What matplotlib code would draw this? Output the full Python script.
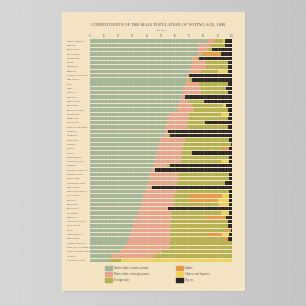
import numpy as np
import matplotlib
matplotlib.use("Agg")
import matplotlib.pyplot as plt
from matplotlib.patches import Rectangle

# rows, top to bottom (per cent of males of voting age)
states = ["WEST VIRGINIA", "INDIANA", "KENTUCKY", "OKLAHOMA", "TENNESSEE",
          "MAINE", "VERMONT", "OREGON", "NORTH CAROLINA", "ARKANSAS",
          "OHIO", "IOWA", "KANSAS", "VIRGINIA", "MARYLAND",
          "MISSOURI", "PENNSYLVANIA", "COLORADO", "NEBRASKA", "DELAWARE",
          "NEW HAMPSHIRE", "GEORGIA", "ALABAMA", "MICHIGAN", "ILLINOIS",
          "IDAHO", "TEXAS", "NEW JERSEY", "WASHINGTON", "FLORIDA",
          "SOUTH CAROLINA", "CONNECTICUT", "NEW YORK", "RHODE ISLAND", "MISSISSIPPI",
          "MASSACHUSETTS", "CALIFORNIA", "NEVADA", "MONTANA", "LOUISIANA",
          "WYOMING", "ARIZONA", "SOUTH DAKOTA", "WISCONSIN", "UTAH",
          "NEW MEXICO", "MINNESOTA", "NORTH DAKOTA", "DIST. OF COLUMBIA", "INDIAN TERRITORY",
          "ALASKA", "UNITED STATES"]
native_native = [83, 76, 76, 75, 72, 72, 71, 70, 68, 68,
                 67, 66, 65, 65, 63, 62, 61, 56, 54, 54,
                 53, 53, 52, 49, 48, 48, 47, 46, 46, 45,
                 44, 42, 42, 41, 40, 39, 37, 37, 36, 35,
                 34, 33, 31, 30, 29, 28, 27, 26, 24, 21,
                 15, 14]
native_foreign = [5, 9, 7, 4, 3, 10, 11, 8, 2, 2,
                  10, 12, 13, 2, 6, 10, 12, 14, 15, 14,
                  16, 2, 3, 18, 18, 17, 18, 19, 18, 9,
                  2, 20, 21, 20, 3, 22, 22, 22, 23, 20,
                  24, 25, 26, 27, 28, 28, 30, 30, 32, 30,
                  30, 0]
foreign_white = [6, 10, 3, 2, 2, 15, 15, 12, 0, 2,
                 20, 18, 19, 0, 11, 22, 24, 22, 28, 13,
                 28, 0, 1, 31, 33, 28, 7, 33, 28, 2,
                 0, 36, 35, 34, 1, 37, 11, 11, 32, 0,
                 34, 23, 40, 40, 38, 27, 37, 44, 44, 49,
                 55, 8]
indians = [0, 0, 0, 11, 0, 0, 0, 0, 0, 0,
           0, 0, 0, 0, 0, 0, 0, 0, 0, 0,
           0, 0, 0, 0, 0, 5, 0, 0, 0, 0,
           0, 0, 0, 0, 0, 0, 23, 20, 0, 0,
           0, 15, 0, 0, 4, 10, 3, 0, 0, 0,
           0, 0]
chinese = [1, 0, 0, 0, 0, 0, 0, 7, 0, 0,
           0, 0, 0, 0, 0, 2, 0, 6, 0, 0,
           0, 0, 0, 0, 0, 0, 0, 0, 6, 0,
           0, 0, 0, 0, 0, 0, 5, 8, 7, 0,
           6, 0, 0, 0, 0, 5, 0, 0, 0, 0,
           0, 78]
negro = [5, 5, 14, 8, 23, 3, 3, 3, 30, 28,
         3, 4, 3, 33, 20, 4, 3, 2, 3, 19,
         3, 45, 44, 2, 1, 2, 28, 2, 2, 44,
         54, 2, 2, 5, 56, 2, 2, 2, 2, 45,
         2, 4, 3, 3, 1, 2, 3, 0, 0, 0,
         0, 0]
ticks = [0, 10, 20, 30, 40, 50, 60, 70, 80, 90, 100]

series = [("Native white of native parents", native_native, "#a3b597"),
          ("Native white of foreign parents", native_foreign, "#e7a38c"),
          ("Foreign white", foreign_white, "#b3b04e"),
          ("Indians", indians, "#e49a45"),
          ("Chinese and Japanese", chinese, "#efd158"),
          ("Negroes", negro, "#2b2623")]

W = H = 306.0


def fx(x):
    return x / W


def fy(y):
    return 1 - y / H


plt.rcParams['font.family'] = ['Liberation Serif', 'DejaVu Serif']
ink = "#5a4f45"

fig = plt.figure(figsize=(3.06, 3.06), dpi=100)

# grey wall + paper sheet
bg = fig.add_axes([0, 0, 1, 1])
bg.axis("off")
grad = np.linspace(0.84, 0.77, 256)[None, :]
bg.imshow(grad, cmap="gray", vmin=0, vmax=1, aspect="auto",
          extent=[0, 1, 0, 1], zorder=0)
bg.set_xlim(0, 1)
bg.set_ylim(0, 1)
bg.add_patch(Rectangle((fx(64), fy(291)), fx(245) - fx(64), fy(13) - fy(291),
                       color="#b8b8b8", zorder=1))
bg.add_patch(Rectangle((fx(62), fy(290)), fx(244) - fx(62), fy(12) - fy(290),
                       color="#f2e4c5", zorder=2))

fig.text(fx(158), fy(24.5), "CONSTITUENTS OF THE MALE POPULATION OF VOTING AGE, 1890",
         ha="center", va="center", fontsize=3.2, color=ink)
fig.text(fx(161), fy(30.5), "PER CENT", ha="center", va="center",
         fontsize=1.6, color=ink)

# the bars
ax = fig.add_axes([fx(90), fy(262.5), fx(232) - fx(90), fy(39) - fy(262.5)])
ax.patch.set_alpha(0)
y = np.arange(len(states))
left = np.zeros(len(states))
for name, vals, col in series:
    vals = np.array(vals, dtype=float)
    ax.barh(y, vals, left=left, height=0.78, color=col, linewidth=0)
    left += vals

for t in np.arange(0, 100, 2.5):
    lw = 0.35 if t % 10 == 0 else 0.2
    ax.axvline(t, color="#f2e4c5", lw=lw, alpha=0.45, zorder=3)

ax.set_xlim(0, 100)
ax.set_ylim(len(states) - 0.5, -0.5)
ax.xaxis.tick_top()
ax.set_xticks(ticks)
ax.set_xticklabels([str(t) for t in ticks], fontsize=1.8, color=ink)
ax.tick_params(axis="x", length=0, pad=0.8)
ax.set_yticks([])
for s in ax.spines.values():
    s.set_visible(False)

for i, name in enumerate(states):
    ax.text(-16, i, name, ha="left", va="center", fontsize=1.7, color=ink)

# legend
rows = [268, 274, 280]
for k, (name, vals, col) in enumerate(series):
    cx = 105 if k < 3 else 176
    ry = rows[k % 3]
    bg.add_patch(Rectangle((fx(cx), fy(ry + 1.6)), fx(7), 3.2 / H,
                           color=col, zorder=3))
    bg.text(fx(cx + 9), fy(ry), name, ha="left", va="center",
            fontsize=2.0, color=ink, zorder=3)

fig.savefig("out.png", dpi=100)
